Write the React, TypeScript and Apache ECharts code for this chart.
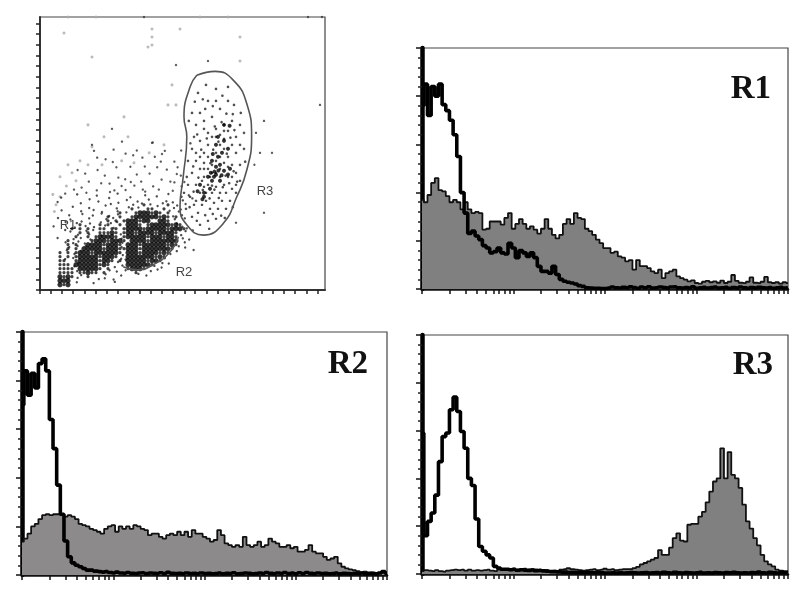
import React, { useEffect, useRef } from "react";
import * as echarts from "echarts";

const r1Fill = [37,36,39,44,46,41,40.5,38.5,36,37,36,33,36,33,31.5,32,31.5,24.6,25,28,28,28,26.7,29.5,31.5,25,27,29,27,25,26,24.6,23,25,29,25,22.5,21,22.5,27,29,27,31.5,29.5,29,25,24,22.5,20.5,19,17,17,15,15.5,13.5,13,11.5,12,8,12,9.5,9.5,8.7,7.3,6.6,8,4.5,6.6,7.3,8,5.2,4.5,3.9,3.2,3.6,2.5,2.2,3,3.4,2.8,3.2,2.6,3.5,2.5,3,5.8,3.4,2.6,2.4,3,4.8,2.6,2.4,3,5,2.8,2.5,2.8,2.2,2.8,2.4];
const r1Line = [76,85,72,84,80,85,76.5,74,70,64,55,40,31.5,23,24,22,20.5,18,17,15,15.5,17,15,14.5,19,17,13,16,15,13.5,15,13,9.4,7.3,7.3,6.6,9.4,6,4,3.2,2.8,2.5,2.1,1.4,1.1,0.5,0.4,0.3,0.3,0.2,0.2,0.4,0.8,0.5,0.4,0.7,0.5,0.9,0.6,0.3,0.8,0.5,0.9,0.4,0.5,0.8,0.6,0.4,0.8,0.9,0.5,0.4,0.6,0.4,0.9,0.3,0.5,0.7,0.4,0.6,0.8,0.4,0.5,0.7,0.3,0.6,0.4,0.8,0.5,0.3,0.6,0.4,0.7,0.5,0.4,0.6,0.3,0.5,0.7,0.4,0.6];

const r2Fill = [13.7,15,17,20,21,23,24.6,25,24.6,25,25,24.6,24,24.6,24,23,21,20.5,20,19,18.5,17.8,17,19,20,20.5,17.8,20,19,20,19,20.5,20,19,18.5,16.4,17,17,15.7,15,16.4,17,16.4,17.8,16.4,17.8,15.7,18.5,17,17,15.7,15,13.7,14.4,18.5,16.4,13,12.3,11.6,12.3,11.6,15.7,12.3,11.6,12.3,13.7,11.6,12.3,15,13.7,13,11.6,11.6,12.3,11,11.6,9.6,9.6,10.3,12.3,9.6,8.9,8.9,7.5,6.2,6.8,7.5,4.8,3.4,2.7,2.3,2,1.6,1.1,1.4,0.7,1.1,0.7,0.7,1.1,0.7];
const r2Line = [70,84,74,83,77,87,89,84,64,52,37,25,14,7.5,5,4,3.4,2.7,2,2,1.6,1.4,1.2,1.4,1,0.8,1.2,0.8,0.7,1,0.7,0.6,0.8,0.9,0.6,0.8,0.7,0.6,0.9,0.6,1.1,0.7,0.6,0.7,0.5,0.8,0.6,0.7,0.5,0.8,0.6,0.7,0.5,0.6,0.8,0.5,0.7,0.6,0.9,0.5,0.6,0.8,0.7,0.5,0.6,0.8,0.6,1,0.7,0.5,0.8,0.6,1,0.6,0.8,0.5,0.9,0.6,1,0.7,0.5,0.8,0.6,0.7,0.5,0.6,0.8,0.5,0.7,0.6,0.5,0.7,0.6,0.8,0.5,0.7,0.6,0.5,0.8,1.4,0.6];

const r3Fill = [1.2,1.6,1.4,1.2,1.6,1.2,1,1.4,1.6,1.8,1.6,1.8,1.4,1.8,1.4,1.6,1.4,1.6,1.8,1.4,1.2,1.8,2,1.8,2,2.2,1.8,2,2.2,1.8,2,1.8,1.6,1.4,1.6,1.2,1.4,1.2,1.8,2,2.4,2,1.8,1.6,1.4,1.6,1.8,2,1.6,1.8,2.2,1.8,2,1.6,1.8,2,2,2,2.5,3,4,4.6,5.3,6,6.7,10,8,8,11,15,17,14,13.6,20.6,21,21,24,26,30,34.5,38.7,40,52.6,40,51,41.5,40,36,29,22,19,15,12,8,5.3,4,3.2,1.8,1.4,1.2,1.2];
const r3Line = [59,16,22,25.5,33,47,57.5,59,68.7,74,68,59.6,52.6,40,37,23,11.5,9.5,8,6.7,3.2,2.5,2,2,1.8,2,1.6,1.8,1.6,1.5,1.7,1.4,1.5,1.3,1.2,1,1,0.9,0.8,0.8,0.6,0.7,0.6,0.7,0.5,0.6,0.6,0.5,0.6,0.5,0.4,0.4,0.5,0.4,0.5,0.4,0.5,0.6,0.5,0.4,0.5,0.6,0.4,0.5,0.6,0.4,0.7,0.5,0.4,0.7,0.5,0.4,0.6,0.5,0.4,0.5,0.7,0.4,0.5,0.4,0.6,0.5,0.4,0.6,0.5,0.7,0.5,0.4,0.5,0.4,0.6,0.5,0.8,0.5,0.4,0.7,0.5,0.4,0.6,0.5,0.4];

const histXTicks = [0,7.5,11.9,15,17.5,19.5,21.1,22.6,23.9,25,32.5,36.9,40,42.5,44.5,46.1,47.6,48.9,50,57.5,61.9,65,67.5,69.5,71.1,72.6,73.9,75,82.5,86.9,90,92.5,94.5,96.1,97.6,98.9,100];
const scatterXTicks = [0,2.8,5.5,8.3,11.1,13.9,16.6,19.4,22.2,25,27.7,30.5,33.3,36.1,38.8,41.6,44.4,47.2,49.9,52.7,55.5,58.3,61,63.8,66.6,69.4];
const scatterYTicks = [1.7,4.3,7,9.7,12.3,15,17.7,20.3,23,25.7,28.3,31,33.7,36.3,39,41.7,44.3,47,49.7,52.3,55,57.7,60.3,63,65.7,68.3];

const denseRows = [
"                                         ",
"                                         ",
"                                         ",
"                          +     +        ",
"                       +   ++  +         ",
"                    +   +###+#+ +        ",
"                 +  +  +######+#+ +      ",
"                 + + +###+##  ##+        ",
"          +    + +  + ###+ +#####+#+     ",
"        + + +  ++ ++ +####+#####+###+    ",
"          + +  +++#+ +##+####+####+      ",
"         +  + +####+ +#####+###+##+      ",
"       +     +###+###+ ####+#######      ",
"       + +  ####+###+ ###+######+#+      ",
"       + + #####+###++###+#######+       ",
"     + + +###+######+ ###+####+#+        ",
"     + + +#####+###+  #######+#+         ",
"     ++  +#####+##+ + #####+##+          ",
"     +++ ######+#+    ######+            ",
"     ++++ #####+ +    +###+              ",
"     ++++ ++#++ +       +                ",
"     #+#+   +                            ",
"     ###                                 ",
"     #+#",
];
const denseStartRow = 44;

const fringeDots = [[9.3,44.4],[14.2,44.7],[19.4,44.2],[22.6,45.1],[26.3,44.6],[29.2,44.9],[32.1,44.3],[35.4,45],[37.2,44.6],[5.3,45.2],[12.4,45.6],[17.3,45.3],[21.7,45.8],[24.4,46.2],[27.2,45.7],[31.6,46.1],[33.2,46.4],[35.7,45.9],[38.1,45.4],[4.4,46.3],[10.2,46.6],[14.6,46.2],[17.7,46.8],[19.6,46.5],[23.3,47],[25.5,46.7],[27.6,46.9],[29.4,47.3],[30.7,46.6],[34.3,47.2],[36.4,46.8],[8.2,47.5],[12.3,47.8],[16.4,47.2],[19.2,47.9],[22.2,47.6],[24.6,47.7],[33.5,47.8],[35.2,48.2],[5.4,48.4],[10.3,48.6],[13.4,48.3],[15.5,48.8],[19.4,48.6],[21.6,48.9],[32.4,48.5],[34.7,48.7],[7.3,49.6],[10.6,49.3],[13.2,49.7],[15.4,49.2],[17.3,49.8],[19.5,49.4],[33.3,49.9],[35.5,49.6],[4.5,50.3],[7.6,50.7],[12.3,50.4],[16.6,50.6],[18.3,50.3],[33.7,50.6],[36.2,50.4],[6.4,51.3],[9.2,51.6],[10.4,51.2],[12.5,51.7],[15.2,51.4],[17.7,51.6],[19.3,51.3],[34.2,51.7],[3.4,52.4],[8.7,52.7],[11.4,52.3],[13.5,52.6],[16.3,52.2],[18.4,52.8],[35.6,52.5],[36.7,52.9],[6.3,53.3],[7.6,53.7],[11.6,53.5],[13.3,53.3],[36.4,53.6],[38.2,53.4],[9.5,54.5],[12.3,54.4],[15.4,54.7],[20.2,54.4],[35.3,54.6],[4.4,55.3],[8.4,55.6],[10.2,55.3],[12.6,55.7],[20.4,55.5],[35.7,55.4],[37.3,55.7],[6.4,56.4],[8.3,56.6],[9.6,56.2],[11.2,56.7],[20.6,56.5],[36.2,56.4],[7.3,57.6],[9.4,57.3],[11.4,57.4],[20.4,57.6],[34.7,57.4],[36.3,57.7],[6.7,58.4],[10.3,58.5],[34.2,58.6],[38.4,58.3],[8.6,59.3],[20.7,59.6],[32.6,59.3],[6.3,60.6],[8.3,60.3],[20.3,60.5],[21.4,60.7],[31.2,60.4],[9.4,61.5],[19.5,61.3],[30.6,61.6],[32.2,61.7],[8.6,62.4],[18.7,62.6],[20.6,62.2],[28.6,62.3],[30.4,62.7],[9.3,63.6],[17.4,63.4],[19.2,63.7],[21.4,63.4],[27.7,63.6],[29.4,63.2],[10.3,64.6],[16.4,64.4],[20.3,64.7],[24.6,64.3],[26.6,64.7],[9.4,65.3],[14.7,65.6],[16.2,65.4],[18.4,65.7],[9.2,66.4],[13.4,66.6],[18.7,66.3]];

const midDots = [[13,32],[14.3,35.2],[13.5,33.5],[16.4,35.6],[18.2,36.3],[19.1,37.6],[21.4,34.2],[23.3,34.6],[25.6,35.2],[26.2,37.4],[14.4,38.3],[16.2,39.7],[19.6,40.2],[21.3,40.6],[22.7,41.3],[24.2,39.4],[27.4,39.2],[29.3,37.6],[31.2,33.5],[33.6,36.2],[34.2,39.3],[30.4,40.7],[32.6,41.2],[28.3,42.4],[25.7,43.2],[21.4,43.3],[18.6,43.4],[15.3,41.6],[12.2,41.2],[10.4,42.7],[8.5,43.2],[6.3,44.2],[11.6,44],[14.2,43.4],[17.5,43.8],[20.4,42.3],[23.6,42.2],[26.3,43.7],[29.7,43.2],[33.2,43.5],[35.4,42.4],[34.4,37.6],[31.7,38.2],[24.2,33.4],[20.5,31.2],[18.4,33.2],[28.2,31.4],[30.5,34.3],[35.3,33.4],[36.1,41.3],[35.2,39.7],[33.6,41.4],[11.3,39.2],[9.4,38.3],[22.6,37.5],[28.7,35],[25.3,41.2],[30.2,36.2],[17.4,41.7]];
const gateCloud = [[37.2,26],[38.5,30],[40,24],[41,28],[42,21],[43,25],[44,18],[45,23],[46,27],[47,21],[48,26],[49,30],[50,27],[38,33],[39,36],[40,31],[41,34],[42,32],[43,30],[44,28],[45,29.5],[46,30.5],[47,28.5],[48,32],[49,34],[50,37],[51,33],[38,39],[39,42],[40,38],[41,36.5],[42,35],[43,37],[44,34],[45,35],[46,33],[47,35],[48,37],[49,39],[50,41],[37,42],[37.5,45],[38.5,47],[40,44],[41,40],[42,42],[43,44],[44,42.5],[45,44],[46,42],[47,40],[48,43],[49,44],[36.5,48],[38,50],[39.5,49],[40.5,47],[41.5,46],[42.5,48],[43.5,46.5],[44.5,48],[45.5,46],[46.5,48],[47.5,46],[40,52],[42,51],[44,50.5],[39,46],[41,42.5],[43,39],[45,38],[46,36.5],[47,37.5],[42,38],[44,36],[45,32],[44,30],[46,28.5],[42,29],[41,26],[39,27],[38,24],[39.5,19],[41.5,17],[44,21],[47,17.5],[48.5,22],[50,32],[37,36],[36.7,40],[36,44],[51,29],[39,34],[40,35],[41,38],[42.5,40],[44,39],[48,40],[49,42],[45,40],[46.5,44],[43,42.2],[41.5,44],[40.5,41],[38.3,37.4],[39.6,40.2],[40.7,43.3],[42.4,45.4],[43.6,43.2],[44.7,45.3],[45.7,42.6],[47.3,41.6],[48.4,38.6],[46.4,39.7],[46.7,34.2],[43.3,33.2],[42.6,36.6],[44.6,31.2],[45.4,26.3],[43.7,27.4],[47.6,30.2],[48.6,28.3],[41.7,30.4],[40.3,33.2],[39.3,29.4],[37.6,31.6],[38.4,43.7],[37.4,47.6],[39.2,51],[41.3,49.6],[43.2,49.3],[45.3,49.7],[46.2,50.3],[42.3,53],[48.2,47.6],[49.3,41.2],[41.3,23],[43.2,22.3],[45.6,19.7],[46.6,24.2],[48.2,24.3],[40.7,20.6],[38.7,21.2],[50.2,24],[51.3,36.2]];
const gateDense = [[43.5,40],[44,39.5],[45,37],[46,31],[47,33],[44,32],[42,40],[40,42],[43,36],[41,44],[47.5,38],[43,41],[45,41],[44.5,35],[45.5,34],[46,38.5],[44,37.5],[42.5,43],[46,27],[44.5,30],[41,45],[44.6,38.4],[43.6,38.7],[42.7,39],[45.4,39.6],[47,39.4],[43.2,34.3],[47.4,27.2],[40.6,45.6],[39.4,43.6]];
const outerDots = [[26,0],[67,0],[70.5,0],[28,31.5],[18,28],[56,26],[56,49],[54,29],[58,34],[34,12],[42,11],[70,22],[53.6,37],[49,51.5],[55,34]];
const faintDots = [[7,0],[14,0],[40,0],[47,0],[28,3],[28,5],[28,7],[27,7.5],[6,4],[35,3],[50,5],[13,10],[50,11],[33,17],[32,22],[34,22],[21,25],[12,27],[31,32],[13,32.5],[7,37],[5,40],[8,39],[10,36],[12,37],[5,45],[4,47],[16,30],[22,30],[23.5,36.5],[27.3,34],[15.5,37],[20.4,36],[9,41],[6.6,42.3],[3.6,48.7],[3.2,44.4]];

const r3Gate = [[39.2,14.6],[43.8,13.6],[48.3,15.8],[51.7,21.7],[52.9,30],[51.7,38.3],[49.2,45],[45.8,51.7],[40.8,54.6],[36.7,52],[35,47.5],[35.8,40],[36.7,30],[36,25],[37.5,17.5],[39.2,14.6]];
const r2Gate = [[34.6,55],[32.5,58.8],[28.3,62],[24.2,63.3],[20.8,62.5]];

const panelNames = ["R1", "R2", "R3"];
const gateNames = ["R1", "R2", "R3"];

function cellsOf(mark: string) {
  const out: number[][] = [];
  denseRows.forEach((row, r) => {
    for (let c = 0; c < row.length; c++) if (row[c] === mark) out.push([c, denseStartRow + r]);
  });
  return out;
}

const idx = (values: number[]) => values.map((v, i) => [i, v]);

export default function App() {
  const ref = useRef<HTMLDivElement>(null);
  useEffect(() => {
    const chart = echarts.init(ref.current!, undefined, { renderer: "svg" });
    const grids = [
      { left: 40, top: 17, width: 285, height: 273 },
      { left: 422, top: 48, width: 366, height: 241 },
      { left: 22, top: 332, width: 365, height: 243 },
      { left: 422, top: 335, width: 366, height: 239 },
    ];
    const hist = (grid: number, fill: number[], line: number[], fillColor: string) => [
      {
        type: "line", xAxisIndex: grid, yAxisIndex: grid, data: idx(fill), step: "middle", showSymbol: false,
        lineStyle: { color: "#111", width: 1.8 }, areaStyle: { color: fillColor, opacity: 1 }, z: 2,
      },
      {
        type: "line", xAxisIndex: grid, yAxisIndex: grid, data: idx(line), step: "middle", showSymbol: false, clip: false,
        lineStyle: { color: "#000", width: 3.6 }, z: 3,
      },
    ];
    const dots = (data: number[][], size: number, color: string, z = 2) => ({
      type: "scatter", xAxisIndex: 0, yAxisIndex: 0, data, symbolSize: size, itemStyle: { color }, z,
    });
    const gate = (data: number[][]) => ({
      type: "line", xAxisIndex: 0, yAxisIndex: 0, data, smooth: true, showSymbol: false,
      lineStyle: { color: "#555", width: 1.6 }, z: 4,
    });
    const histX = (i: number) => ({
      type: "value", gridIndex: i, min: 0, max: 100, splitLine: { show: false }, axisLabel: { show: false },
      axisLine: { show: true, onZero: false, lineStyle: { color: "#111", width: 2.5 } },
      axisTick: { show: true, length: 5, customValues: histXTicks, lineStyle: { color: "#111", width: 1.5 } },
    });
    const histY = (i: number) => ({
      type: "value", gridIndex: i, min: 0, max: 100, interval: 20, splitLine: { show: false }, axisLabel: { show: false },
      axisLine: { show: true, onZero: false, lineStyle: { color: "#000", width: 4.5 } },
      axisTick: { show: true, length: 6, lineStyle: { color: "#111", width: 1.5 } },
      minorTick: { show: true, splitNumber: 5, length: 4, lineStyle: { color: "#222", width: 1.5 } },
      minorSplitLine: { show: false },
    });
    const panelLabel = (text: string, right: number, top: number) => ({
      type: "text", right, top, style: { text, font: "bold 33px 'Liberation Serif'", fill: "#111" },
    });
    const gateLabel = (text: string, x: number, y: number) => ({
      type: "text", x, y, style: { text, font: "13px 'Liberation Sans'", fill: "#444", textAlign: "center", textVerticalAlign: "middle" },
    });
    chart.setOption({
      animation: false,
      backgroundColor: "#fff",
      grid: grids.map((g) => ({ ...g, show: true, borderColor: "#444", borderWidth: 1.2, backgroundColor: "#fff" })),
      xAxis: [
        {
          type: "value", gridIndex: 0, min: 0, max: 71.25, splitLine: { show: false }, axisLabel: { show: false },
          axisLine: { show: true, onZero: false, lineStyle: { color: "#333", width: 2 } },
          axisTick: { show: true, length: 4, customValues: scatterXTicks, lineStyle: { color: "#222", width: 1.5 } },
        },
        histX(1), histX(2), histX(3),
      ],
      yAxis: [
        {
          type: "value", gridIndex: 0, min: 0, max: 68.33, inverse: true, splitLine: { show: false }, axisLabel: { show: false },
          axisLine: { show: true, onZero: false, lineStyle: { color: "#333", width: 2 } },
          axisTick: { show: true, length: 4, customValues: scatterYTicks, lineStyle: { color: "#222", width: 1.5 } },
        },
        histY(1), histY(2), histY(3),
      ],
      graphic: [
        panelLabel(panelNames[0], 29, 70),
        panelLabel(panelNames[1], 432, 345),
        panelLabel(panelNames[2], 27, 346),
        gateLabel(gateNames[0], 68, 224),
        gateLabel(gateNames[1], 184, 271),
        gateLabel(gateNames[2], 265, 190),
      ],
      series: [
        dots(faintDots, 3, "#aaa"),
        dots(fringeDots, 2.4, "#222"),
        dots(midDots, 2.4, "#333"),
        dots(gateCloud, 2.6, "#222"),
        dots(gateDense, 4, "#000"),
        dots(outerDots, 2.4, "#333"),
        dots(cellsOf("+"), 3.2, "#111"),
        dots(cellsOf("#"), 5.2, "#000"),
        gate(r3Gate),
        gate(r2Gate),
        ...hist(1, r1Fill, r1Line, "#808080"),
        ...hist(2, r2Fill, r2Line, "#8c8a8a"),
        ...hist(3, r3Fill, r3Line, "#808080"),
      ],
    });
    return () => chart.dispose();
  }, []);
  return (
    <div
      ref={ref}
      style={{ position: "fixed", left: 0, top: 0, width: 800, height: 600, filter: "blur(0.45px)", background: "#fff" }}
    />
  );
}
